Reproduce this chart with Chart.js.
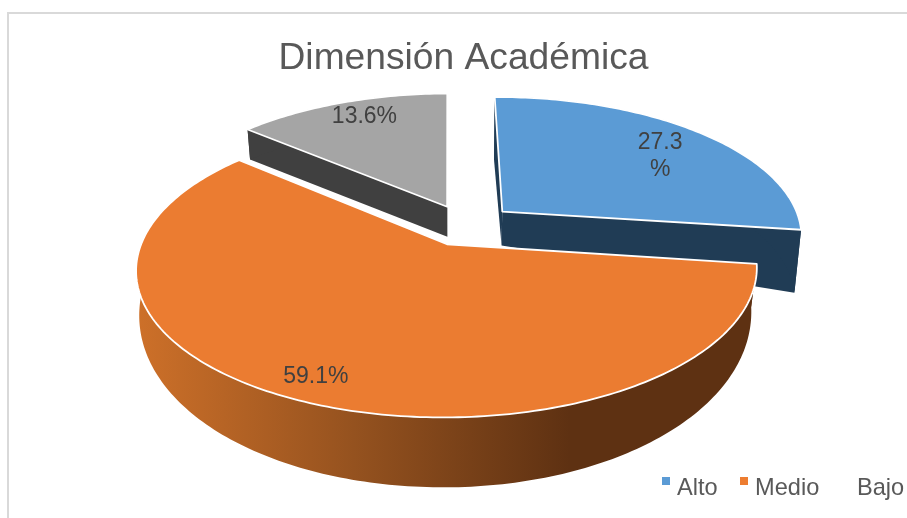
<!DOCTYPE html>
<html>
<head>
<meta charset="utf-8">
<style>html,body{margin:0;padding:0;background:#fff;overflow:hidden}canvas{display:block}</style>
<script src="https://cdn.jsdelivr.net/npm/chart.js@4"></script>
</head>
<body>
<canvas id="c" width="907" height="518" style="width:907px;height:518px"></canvas>
<script>
const categories = ['Alto', 'Medio', 'Bajo'];
const values = [27.3, 59.1, 13.6];
const dataLabels = [['27.3', '%'], ['59.1%'], ['13.6%']];
const topColors = ['#5B9BD5', '#EB7C31', '#A5A5A5'];
const wallColors = ['#203C55', '#5E3112', '#404040'];
const legendMarks = ['#5B9BD5', '#ED7D31', 'rgba(0,0,0,0)'];
const labelRadiiU = [0.94, 1.05, 0.93];
const labelRadiiV = [0.83, 1.02, 1.0];

// view of the disc: unit disc -> screen, a tilted plane seen in perspective
const view = {cx: 467, cy: 225, a: 299, b: 137.5, k: 0.165, explodeU: 0.16, explodeV: 0.15, shrinkR: 6, shrinkL: 3};
const FONT = '"Liberation Sans", Arial, sans-serif';

function project(u, v) {
  const w = 1 - view.k * v;
  return {x: view.cx + view.a * u / w, y: view.cy + view.b * v / w};
}
function depthOf(index, u, v, r) {
  if (index === 0) return 34 + 29 * r;
  if (index === 1) return 30 + 40 * (v + 0.14) / 1.28;
  return 30;
}
function pt(index, ang, mid, r) {
  const u = view.explodeU * Math.cos(mid) + r * Math.cos(ang);
  const v = view.explodeV * Math.sin(mid) + r * Math.sin(ang);
  const top = project(u, v);
  const pull = (u > 0 ? view.shrinkR : view.shrinkL) * u;
  return {top, bot: {x: top.x - pull, y: top.y + depthOf(index, u, v, r)}};
}

const pie3d = {
  id: 'pie3d',
  beforeDraw(chart) {
    const ctx = chart.ctx;
    ctx.save();
    ctx.fillStyle = '#D9D9D9';
    ctx.fillRect(7, 12, 900, 2);
    ctx.fillRect(7, 12, 2, 506);
    ctx.restore();
  },
  beforeDatasetsDraw(chart) {
    const ctx = chart.ctx;
    const arcs = chart.getDatasetMeta(0).data;
    const order = [2, 0, 1];
    ctx.save();
    ctx.lineJoin = 'round';
    order.forEach(i => {
      const {startAngle: s, endAngle: e} = arcs[i].getProps(['startAngle', 'endAngle'], true);
      const mid = (s + e) / 2;
      const n = Math.max(2, Math.ceil((e - s) / (Math.PI / 180)));
      const rim = [];
      for (let j = 0; j <= n; j++) rim.push(pt(i, s + (e - s) * j / n, mid, 1));
      const apex = pt(i, mid, mid, 0);
      let wall = wallColors[i];
      if (i === 1) {
        const g = ctx.createLinearGradient(137, 0, 570, 0);
        g.addColorStop(0, '#CD7029');
        g.addColorStop(0.5, '#95521F');
        g.addColorStop(1, wallColors[1]);
        wall = g;
      }
      ctx.fillStyle = wall;
      [rim[0], rim[n]].forEach(p => {
        ctx.beginPath();
        ctx.moveTo(apex.top.x, apex.top.y);
        ctx.lineTo(p.top.x, p.top.y);
        ctx.lineTo(p.bot.x, p.bot.y);
        ctx.lineTo(apex.bot.x, apex.bot.y);
        ctx.closePath();
        ctx.fill();
      });
      ctx.beginPath();
      rim.forEach((p, j) => j ? ctx.lineTo(p.top.x, p.top.y) : ctx.moveTo(p.top.x, p.top.y));
      for (let j = n; j >= 0; j--) ctx.lineTo(rim[j].bot.x, rim[j].bot.y);
      ctx.closePath();
      ctx.fill();
      ctx.beginPath();
      ctx.moveTo(apex.top.x, apex.top.y);
      rim.forEach(p => ctx.lineTo(p.top.x, p.top.y));
      ctx.closePath();
      ctx.fillStyle = topColors[i];
      ctx.fill();
      ctx.strokeStyle = '#FFFFFF';
      ctx.lineWidth = 1.8;
      ctx.stroke();
    });
    // data labels
    ctx.fillStyle = '#404040';
    ctx.font = '23px ' + FONT;
    ctx.textAlign = 'center';
    ctx.textBaseline = 'middle';
    arcs.forEach((arc, i) => {
      const {startAngle: s, endAngle: e} = arc.getProps(['startAngle', 'endAngle'], true);
      const mid = (s + e) / 2;
      const p = project(labelRadiiU[i] * Math.cos(mid), labelRadiiV[i] * Math.sin(mid));
      const lines = dataLabels[i];
      lines.forEach((t, j) => ctx.fillText(t, p.x, p.y + (j - (lines.length - 1) / 2) * 27));
    });
    // legend
    const marks = [662, 740, 824];
    ctx.font = '23.6px ' + FONT;
    ctx.textAlign = 'left';
    ctx.textBaseline = 'alphabetic';
    categories.forEach((name, i) => {
      ctx.fillStyle = legendMarks[i];
      ctx.fillRect(marks[i], 477, 8, 8);
      ctx.fillStyle = '#595959';
      ctx.fillText(name, i === 2 ? 857 : marks[i] + 15, 495);
    });
    ctx.restore();
    return false;
  }
};

new Chart(document.getElementById('c'), {
  type: 'pie',
  data: {labels: categories, datasets: [{data: values, backgroundColor: topColors, borderColor: '#fff'}]},
  plugins: [pie3d],
  options: {
    responsive: false,
    animation: false,
    rotation: -0.6,
    layout: {padding: {left: 20}},
    plugins: {
      legend: {display: false},
      tooltip: {enabled: false},
      title: {display: true, text: 'Dimensión Académica', color: '#595959',
        font: {family: FONT, size: 37.2, weight: 'normal'}, padding: {top: 36, bottom: 0}}
    }
  }
});
</script>
</body>
</html>
